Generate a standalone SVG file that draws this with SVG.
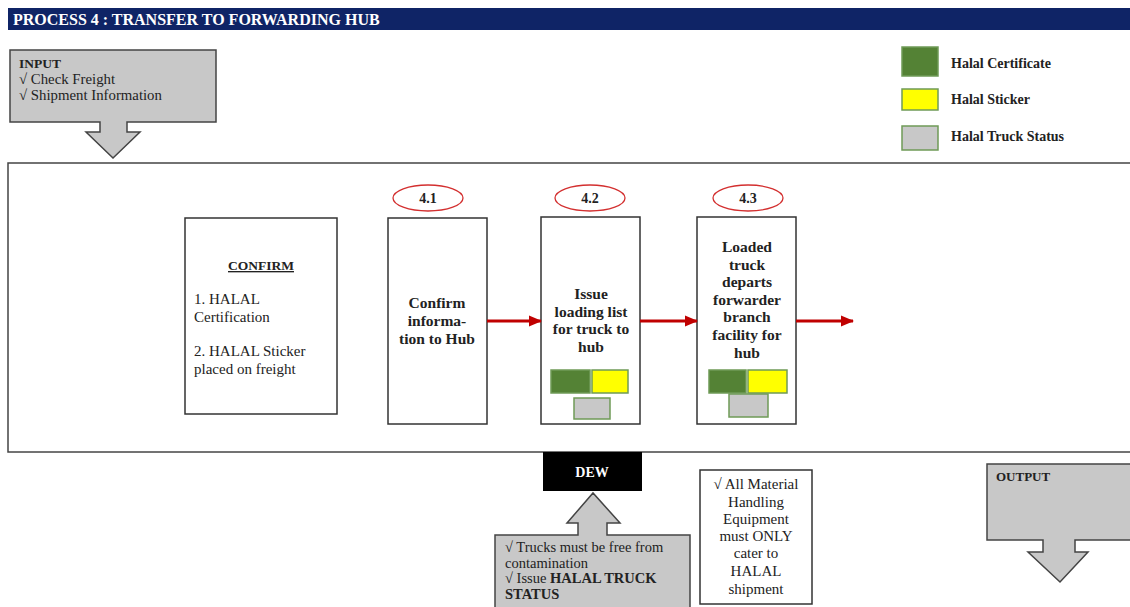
<svg xmlns="http://www.w3.org/2000/svg" width="1130" height="607" viewBox="0 0 1130 607">
<style>
text{font-family:"Liberation Serif","DejaVu Serif",serif;fill:#222}
.b{font-weight:bold}
.box{fill:#fff;stroke:#333;stroke-width:1.5}
.callout{fill:#c8c8c8;stroke:#444;stroke-width:1.5}
.g{fill:#548235;stroke:#6f9a57;stroke-width:1.5}
.y{fill:#ffff00;stroke:#6f9a57;stroke-width:1.5}
.s{fill:#c8c8c8;stroke:#6f9a57;stroke-width:1.5}
.ell{fill:#fff;stroke:#d32f2f;stroke-width:1.3}
.conn{stroke:#c00000;stroke-width:3;fill:none}
.n{font-size:15.5px;font-weight:bold;text-anchor:middle}
.lg{font-size:14px;font-weight:bold}
</style>
<defs>
<marker id="ah" markerWidth="13" markerHeight="12" refX="12" refY="6" orient="auto" markerUnits="userSpaceOnUse">
<path d="M0,0.5 L13,6 L0,11.5 Z" fill="#c00000"/>
</marker>
</defs>
<rect width="1130" height="607" fill="#fff"/>
<g id="title">
<rect x="8" y="8" width="1122" height="22" fill="#0f2466"/>
<text x="13" y="25" style="font-size:16px;font-weight:bold;fill:#fff">PROCESS 4 : TRANSFER TO FORWARDING HUB</text>
</g>
<g id="input">
<path class="callout" d="M10,50 H216 V122 H127 V132 H140 L113,158 L86,132 H100 V122 H10 Z"/>
<text x="19" y="68" class="b" style="font-size:13.5px">INPUT</text>
<text x="19" y="84" style="font-size:14.8px">√ Check Freight</text>
<text x="19" y="100" style="font-size:14.8px">√ Shipment Information</text>
</g>
<g id="legend">
<rect class="g" x="902" y="47" width="36" height="29"/>
<rect class="y" x="902" y="89" width="36" height="21"/>
<rect class="s" x="902" y="126" width="36" height="24"/>
<text x="951" y="68" class="lg">Halal Certificate</text>
<text x="951" y="104" class="lg">Halal Sticker</text>
<text x="951" y="141" class="lg">Halal Truck Status</text>
</g>
<g id="frame">
<rect x="8" y="163" width="1130" height="289" fill="#fff" stroke="#444" stroke-width="1.5"/>
</g>
<g id="confirm">
<rect class="box" x="185" y="218" width="152" height="196"/>
<text x="261" y="270" class="b" style="font-size:13.5px;text-anchor:middle;text-decoration:underline">CONFIRM</text>
<text style="font-size:15px"><tspan x="194" y="304">1. HALAL</tspan><tspan x="194" y="322">Certification</tspan><tspan x="194" y="356">2. HALAL Sticker</tspan><tspan x="194" y="374">placed on freight</tspan></text>
</g>
<g id="step41">
<ellipse class="ell" cx="428" cy="198" rx="35" ry="13"/>
<text x="428" y="203" class="b" style="font-size:14px;text-anchor:middle">4.1</text>
<rect class="box" x="388" y="218" width="99" height="206"/>
<text class="n"><tspan x="437" y="308">Confirm</tspan><tspan x="437" y="326">informa-</tspan><tspan x="437" y="344">tion to Hub</tspan></text>
</g>
<g id="step42">
<ellipse class="ell" cx="590" cy="198" rx="35" ry="13"/>
<text x="590" y="203" class="b" style="font-size:14px;text-anchor:middle">4.2</text>
<rect class="box" x="541" y="217" width="99" height="207"/>
<text class="n"><tspan x="591" y="299">Issue</tspan><tspan x="591" y="317">loading list</tspan><tspan x="591" y="334">for truck to</tspan><tspan x="591" y="352">hub</tspan></text>
<rect class="g" x="551" y="370" width="39" height="23"/>
<rect class="y" x="592" y="370" width="36" height="23"/>
<rect class="s" x="574" y="398" width="36" height="21"/>
</g>
<g id="step43">
<ellipse class="ell" cx="748" cy="198" rx="35" ry="13"/>
<text x="748" y="203" class="b" style="font-size:14px;text-anchor:middle">4.3</text>
<rect class="box" x="697" y="217" width="99" height="207"/>
<text class="n"><tspan x="747" y="252">Loaded</tspan><tspan x="747" y="270">truck</tspan><tspan x="747" y="287">departs</tspan><tspan x="747" y="305">forwarder</tspan><tspan x="747" y="322">branch</tspan><tspan x="747" y="340">facility for</tspan><tspan x="747" y="358">hub</tspan></text>
<rect class="g" x="709" y="370" width="37" height="23"/>
<rect class="y" x="748" y="370" width="39" height="23"/>
<rect class="s" x="729" y="394" width="39" height="23"/>
</g>
<g id="connectors">
<line class="conn" x1="487" y1="321" x2="541" y2="321" marker-end="url(#ah)"/>
<line class="conn" x1="640" y1="321" x2="697" y2="321" marker-end="url(#ah)"/>
<line class="conn" x1="796" y1="321" x2="853" y2="321" marker-end="url(#ah)"/>
</g>
<g id="dew">
<rect x="543" y="452" width="99" height="39" fill="#000"/>
<text x="592" y="477" class="b" style="font-size:14px;text-anchor:middle;fill:#fff">DEW</text>
</g>
<g id="dew-input">
<path class="callout" d="M495,535 H578 V523 H567 L593,493 L620,523 H607 V535 H690 V610 H495 Z"/>
<text style="font-size:14.5px"><tspan x="505" y="552">√ Trucks must be free from</tspan><tspan x="505" y="568">contamination</tspan><tspan x="505" y="583">√ Issue <tspan class="b">HALAL TRUCK</tspan></tspan><tspan x="505" y="599" class="b">STATUS</tspan></text>
</g>
<g id="material">
<rect class="box" x="700" y="470" width="112" height="134"/>
<text style="font-size:15px;text-anchor:middle"><tspan x="756" y="489">√ All Material</tspan><tspan x="756" y="507">Handling</tspan><tspan x="756" y="524">Equipment</tspan><tspan x="756" y="541">must ONLY</tspan><tspan x="756" y="558">cater to</tspan><tspan x="756" y="576">HALAL</tspan><tspan x="756" y="594">shipment</tspan></text>
</g>
<g id="output">
<path class="callout" d="M987,464 H1135 V540 H1075 V552 H1088 L1060,582 L1028,552 H1043 V540 H987 Z"/>
<text x="996" y="481" class="b" style="font-size:13px">OUTPUT</text>
</g>
</svg>
